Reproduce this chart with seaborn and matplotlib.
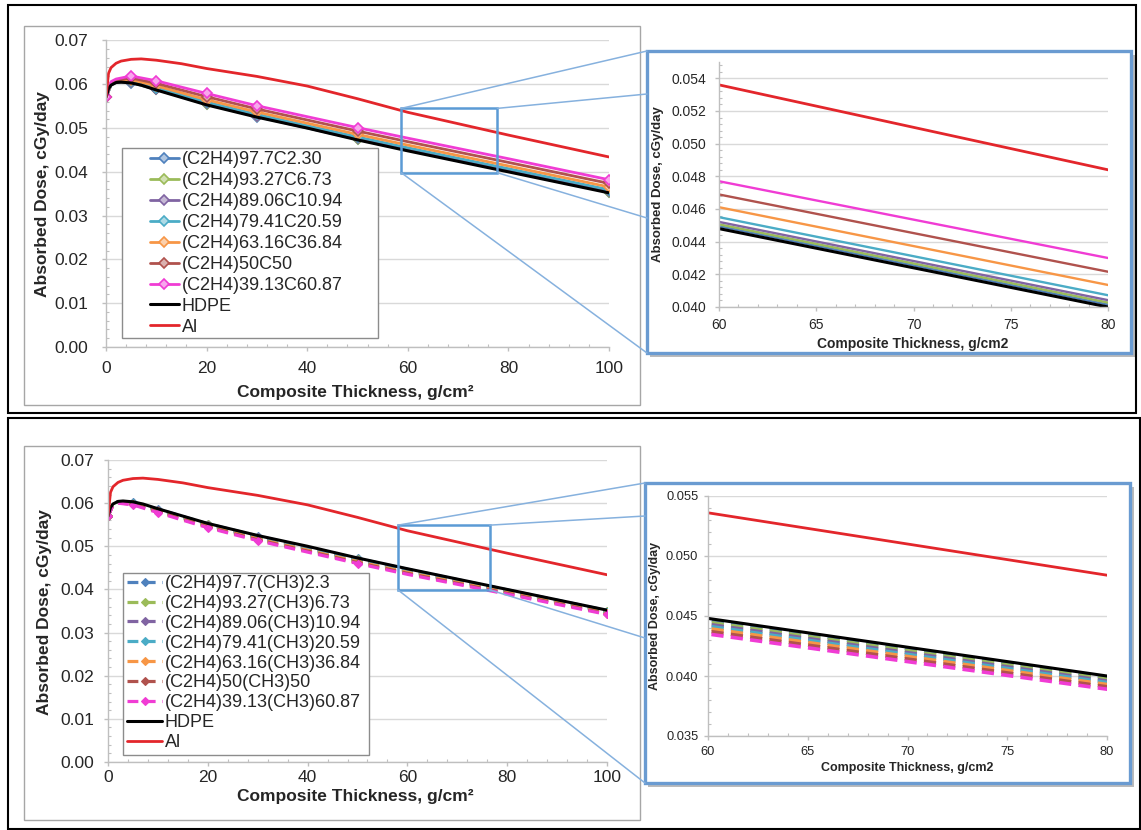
import numpy as np
import pandas as pd
import matplotlib
matplotlib.use("Agg")
import matplotlib.pyplot as plt
import seaborn as sns
import matplotlib.colors as mcolors
from matplotlib.patches import Rectangle, ConnectionPatch
from matplotlib.ticker import MultipleLocator, FormatStrFormatter

# ---------------- data ----------------
thickness_comp = [0, 1, 2, 5, 10, 20, 30, 50, 60, 80, 100]
marker_idx = [0, 3, 4, 5, 6, 7, 10]
thickness_ref = [0, 0.5, 1, 2, 3, 5, 7, 10, 15, 20, 30, 40, 50, 60, 80, 100]

dose_hdpe = [0.0570, 0.0590, 0.0598, 0.0604, 0.0605, 0.0603, 0.0598, 0.0587, 0.0570,
             0.0553, 0.0525, 0.0500, 0.0473, 0.0448, 0.0400, 0.0352]
dose_al = [0.0570, 0.0625, 0.0638, 0.0648, 0.0653, 0.0657, 0.0658, 0.0655, 0.0647,
           0.0636, 0.0618, 0.0596, 0.0567, 0.0536, 0.0484, 0.0434]

# (C2H4)x C y composites (top)
top_labels = ["(C2H4)97.7C2.30", "(C2H4)93.27C6.73", "(C2H4)89.06C10.94",
              "(C2H4)79.41C20.59", "(C2H4)63.16C36.84", "(C2H4)50C50",
              "(C2H4)39.13C60.87"]
c_977 = [0.05700, 0.05984, 0.06044, 0.06038, 0.05881, 0.05543, 0.05263, 0.04744, 0.04495, 0.04015, 0.03535]
c_9327 = [0.05700, 0.05987, 0.06047, 0.06044, 0.05889, 0.05553, 0.05273, 0.04755, 0.04506, 0.04027, 0.03547]
c_8906 = [0.05700, 0.05991, 0.06051, 0.06052, 0.05899, 0.05566, 0.05286, 0.04769, 0.04521, 0.04042, 0.03562]
c_7941 = [0.05700, 0.05999, 0.06059, 0.06068, 0.05920, 0.05592, 0.05312, 0.04797, 0.04550, 0.04072, 0.03592]
c_6316 = [0.05700, 0.06016, 0.06076, 0.06102, 0.05965, 0.05647, 0.05367, 0.04856, 0.04611, 0.04135, 0.03655]
c_50 = [0.05700, 0.06038, 0.06098, 0.06145, 0.06021, 0.05717, 0.05437, 0.04932, 0.04689, 0.04216, 0.03736]
c_3913 = [0.05700, 0.06060, 0.06120, 0.06190, 0.06080, 0.05790, 0.05510, 0.05010, 0.04770, 0.04300, 0.03820]

# (C2H4)x (CH3)y composites (bottom)
bot_labels = ["(C2H4)97.7(CH3)2.3", "(C2H4)93.27(CH3)6.73", "(C2H4)89.06(CH3)10.94",
              "(C2H4)79.41(CH3)20.59", "(C2H4)63.16(CH3)36.84", "(C2H4)50(CH3)50",
              "(C2H4)39.13(CH3)60.87"]
m_977 = [0.05700, 0.05977, 0.06036, 0.06023, 0.05861, 0.05520, 0.05238, 0.04717, 0.04467, 0.03989, 0.03510]
m_9327 = [0.05700, 0.05973, 0.06030, 0.06013, 0.05848, 0.05505, 0.05220, 0.04698, 0.04448, 0.03973, 0.03495]
m_8906 = [0.05700, 0.05969, 0.06025, 0.06003, 0.05836, 0.05492, 0.05204, 0.04681, 0.04431, 0.03958, 0.03482]
m_7941 = [0.05700, 0.05965, 0.06020, 0.05995, 0.05825, 0.05480, 0.05190, 0.04665, 0.04415, 0.03945, 0.03470]
m_6316 = [0.05700, 0.05961, 0.06014, 0.05985, 0.05812, 0.05465, 0.05172, 0.04646, 0.04396, 0.03929, 0.03455]
m_50 = [0.05700, 0.05955, 0.06007, 0.05973, 0.05796, 0.05448, 0.05152, 0.04623, 0.04373, 0.03910, 0.03438]
m_3913 = [0.05700, 0.05950, 0.06000, 0.05960, 0.05780, 0.05430, 0.05130, 0.04600, 0.04350, 0.03890, 0.03420]

top_series = [c_977, c_9327, c_8906, c_7941, c_6316, c_50, c_3913]
bot_series = [m_977, m_9327, m_8906, m_7941, m_6316, m_50, m_3913]
comp_colors = ["#4F81BD", "#9BBB59", "#8064A2", "#4BACC6", "#F79646", "#B0524D", "#F03CD4"]
hdpe_color = "#000000"
al_color = "#E3262B"

# zoom regions on the main plots (data coords)
zoom_top = (58.7, 77.8, 0.0398, 0.0545)
zoom_bot = (58.1, 76.5, 0.0399, 0.0549)

# ---------------- styling ----------------
sns.set_style("ticks")
plt.rcParams['font.family'] = ['Liberation Sans', 'DejaVu Sans']

W, H = 1141, 830
fig = plt.figure(figsize=(W / 100, H / 100), dpi=100)
fig.patch.set_facecolor("white")


def ax_rect(l, t, r, b):
    return [l / W, 1 - b / H, (r - l) / W, (b - t) / H]


def fig_rect(l, t, r, b, **kw):
    return Rectangle((l / W, 1 - b / H), (r - l) / W, (b - t) / H,
                     transform=fig.transFigure, **kw)


def lighten(c, f):
    r, g, b = mcolors.to_rgb(c)
    return (r + (1 - r) * f, g + (1 - g) * f, b + (1 - b) * f)


# outer black frames
fig.add_artist(fig_rect(8, 5, 1136, 413, fill=False, ec="black", lw=1.5, zorder=10))
fig.add_artist(fig_rect(8, 418, 1140, 829, fill=False, ec="black", lw=1.5, zorder=10))
# gray chart borders
fig.add_artist(fig_rect(24, 26, 640, 405, fill=False, ec="#A6A6A6", lw=1, zorder=-1))
fig.add_artist(fig_rect(24, 446, 640, 820, fill=False, ec="#A6A6A6", lw=1, zorder=-1))
# inset boxes with shadow
fig.add_artist(fig_rect(650, 55, 1135, 357, fc="#BBBBBB", ec="none", zorder=-3))
fig.add_artist(fig_rect(647, 51, 1131, 353, fc="white", ec="#6A9BD1", lw=2.4, zorder=-2))
fig.add_artist(fig_rect(648, 487, 1134, 787, fc="#BBBBBB", ec="none", zorder=-3))
fig.add_artist(fig_rect(645, 483, 1130, 783, fc="white", ec="#6A9BD1", lw=2.4, zorder=-2))

ax1 = fig.add_axes(ax_rect(106, 40.5, 609, 347))
ax2 = fig.add_axes(ax_rect(719, 62, 1108, 307))
ax3 = fig.add_axes(ax_rect(108, 460, 607, 762))
ax4 = fig.add_axes(ax_rect(708, 496, 1107, 736))
for a in (ax1, ax2, ax3, ax4):
    a.set_facecolor("none")

TXT = "#262626"
SP = "#BFBFBF"


def style_axes(ax, xlim, ylim, xmaj, xmin, ymaj, ymin, yfmt, fs, ypad, xpad):
    ax.set_xlim(*xlim)
    ax.set_ylim(*ylim)
    ax.xaxis.set_major_locator(MultipleLocator(xmaj))
    ax.xaxis.set_minor_locator(MultipleLocator(xmin))
    ax.yaxis.set_major_locator(MultipleLocator(ymaj))
    ax.yaxis.set_minor_locator(MultipleLocator(ymin))
    ax.yaxis.set_major_formatter(FormatStrFormatter(yfmt))
    ax.grid(axis="y", which="major", color="#D9D9D9", lw=1)
    ax.set_axisbelow(True)
    for s in ("top", "right"):
        ax.spines[s].set_visible(False)
    for s in ("left", "bottom"):
        ax.spines[s].set_color(SP)
        ax.spines[s].set_linewidth(1)
    ax.tick_params(which="major", direction="out", length=3, width=1, color=SP,
                   labelsize=fs, labelcolor=TXT, left=True, bottom=True)
    ax.tick_params(axis="y", which="major", pad=ypad)
    ax.tick_params(axis="x", which="major", pad=xpad)
    ax.tick_params(which="minor", direction="in", length=2.5, width=0.8, color=SP,
                   left=True, bottom=True)


def plot_set(ax, series, labels, dashed, main, msize):
    for ys, lab, col in zip(series, labels, comp_colors):
        kw = dict(x=thickness_comp, y=ys, ax=ax, color=col, label=lab, errorbar=None)
        if dashed:
            kw.update(lw=2.3 if main else 2.6, linestyle=(0, (3.4, 2.0)))
        else:
            kw.update(lw=2.0 if main else 1.7)
        if main:
            if dashed:
                kw.update(marker="D", markevery=marker_idx, ms=msize, mfc=col, mec=col, mew=0.8)
            else:
                kw.update(marker="D", markevery=marker_idx, ms=msize,
                          mfc=lighten(col, 0.55), mec=col, mew=1.2)
        sns.lineplot(**kw)
    sns.lineplot(x=thickness_ref, y=dose_hdpe, ax=ax, color=hdpe_color,
                 lw=2.2, label="HDPE", errorbar=None)
    sns.lineplot(x=thickness_ref, y=dose_al, ax=ax, color=al_color,
                 lw=2.0, label="Al", errorbar=None)


# ---- top main ----
plot_set(ax1, top_series, top_labels, dashed=False, main=True, msize=5.5)
style_axes(ax1, (0, 100), (0, 0.07), 20, 4, 0.01, 0.002, "%.2f", 12.5, 10, 7.4)
ax1.set_xlabel("Composite Thickness, g/cm²", fontsize=12.5, fontweight="bold", color=TXT)
ax1.set_ylabel("Absorbed Dose, cGy/day", fontsize=12.5, fontweight="bold", color=TXT)
ax1.xaxis.set_label_coords(0.495, -0.124)
ax1.yaxis.set_label_coords(-0.111, 0.5)

# ---- top inset ----
plot_set(ax2, top_series, top_labels, dashed=False, main=False, msize=0)
style_axes(ax2, (60, 80), (0.040, 0.055), 5, 1, 0.002, 0.0004, "%.3f", 10, 6.3, 5)
ax2.set_yticks([0.040, 0.042, 0.044, 0.046, 0.048, 0.050, 0.052, 0.054])
ax2.set_ylim(0.040, 0.055)
ax2.set_xlabel("Composite Thickness, g/cm2", fontsize=10, fontweight="bold", color=TXT)
ax2.set_ylabel("Absorbed Dose, cGy/day", fontsize=9.5, fontweight="bold", color=TXT)
ax2.xaxis.set_label_coords(0.499, -0.122)
ax2.yaxis.set_label_coords(-0.141, 0.502)

# ---- bottom main ----
plot_set(ax3, bot_series, bot_labels, dashed=True, main=True, msize=4)
style_axes(ax3, (0, 100), (0, 0.07), 20, 4, 0.01, 0.002, "%.2f", 12.5, 7, 3)
ax3.set_xlabel("Composite Thickness, g/cm²", fontsize=12.5, fontweight="bold", color=TXT)
ax3.set_ylabel("Absorbed Dose, cGy/day", fontsize=12.5, fontweight="bold", color=TXT)
ax3.xaxis.set_label_coords(0.495, -0.089)
ax3.yaxis.set_label_coords(-0.112, 0.497)

# ---- bottom inset ----
plot_set(ax4, bot_series, bot_labels, dashed=True, main=False, msize=0)
style_axes(ax4, (60, 80), (0.035, 0.055), 5, 1, 0.005, 0.001, "%.3f", 9.3, 4, 4)
ax4.set_xlabel("Composite Thickness, g/cm2", fontsize=9, fontweight="bold", color=TXT)
ax4.set_ylabel("Absorbed Dose, cGy/day", fontsize=9, fontweight="bold", color=TXT)
ax4.xaxis.set_label_coords(0.499, -0.108)
ax4.yaxis.set_label_coords(-0.118, 0.5)

for a in (ax2, ax4):
    lg = a.get_legend()
    if lg is not None:
        lg.remove()

# ---- legends (frame drawn separately, Excel-like) ----
def make_legend(ax, box, anchor, fs, spacing, hlen):
    lg = ax.get_legend()
    if lg is not None:
        lg.remove()
    h, l = ax.get_legend_handles_labels()
    ax.add_patch(Rectangle((box[0] / W, 1 - box[3] / H), (box[2] - box[0]) / W,
                           (box[3] - box[1]) / H, transform=fig.transFigure,
                           fc="white", ec="#8C8C8C", lw=1, zorder=4, clip_on=False))
    leg = ax.legend(h, l, loc="upper left",
                    bbox_to_anchor=(anchor[0] / W, 1 - anchor[1] / H),
                    bbox_transform=fig.transFigure, frameon=False, fontsize=fs,
                    labelspacing=spacing, handlelength=hlen, handletextpad=0.15,
                    borderpad=0, borderaxespad=0)
    for t in leg.get_texts():
        t.set_color(TXT)
    leg.set_zorder(6)


make_legend(ax1, (122, 148, 378, 338), (150, 151), 13, 0.22, 1.6)
make_legend(ax3, (123, 573, 369, 755), (127, 575), 13, 0.16, 1.95)

# ---- zoom rectangles and connectors ----
def zoom_marks(ax, z, ends):
    x0, x1, y0, y1 = z
    ax.add_patch(Rectangle((x0, y0), x1 - x0, y1 - y0, fill=False, ec="#5B9BD5",
                           lw=1.8, zorder=7, clip_on=False))
    corners = [(x0, y1), (x1, y1), (x1, y0), (x0, y0)]
    for c, e in zip(corners, ends):
        cp = ConnectionPatch(xyA=c, coordsA=ax.transData, xyB=(e[0], H - e[1]),
                             coordsB="figure pixels", color="#86B1DE", lw=1.1, zorder=8)
        fig.add_artist(cp)


zoom_marks(ax1, zoom_top, [(647, 51), (647, 94), (647, 218), (647, 353)])
zoom_marks(ax3, zoom_bot, [(645, 483), (645, 516), (645, 638), (645, 783)])

fig.savefig("out.png", dpi=100, facecolor="white")
